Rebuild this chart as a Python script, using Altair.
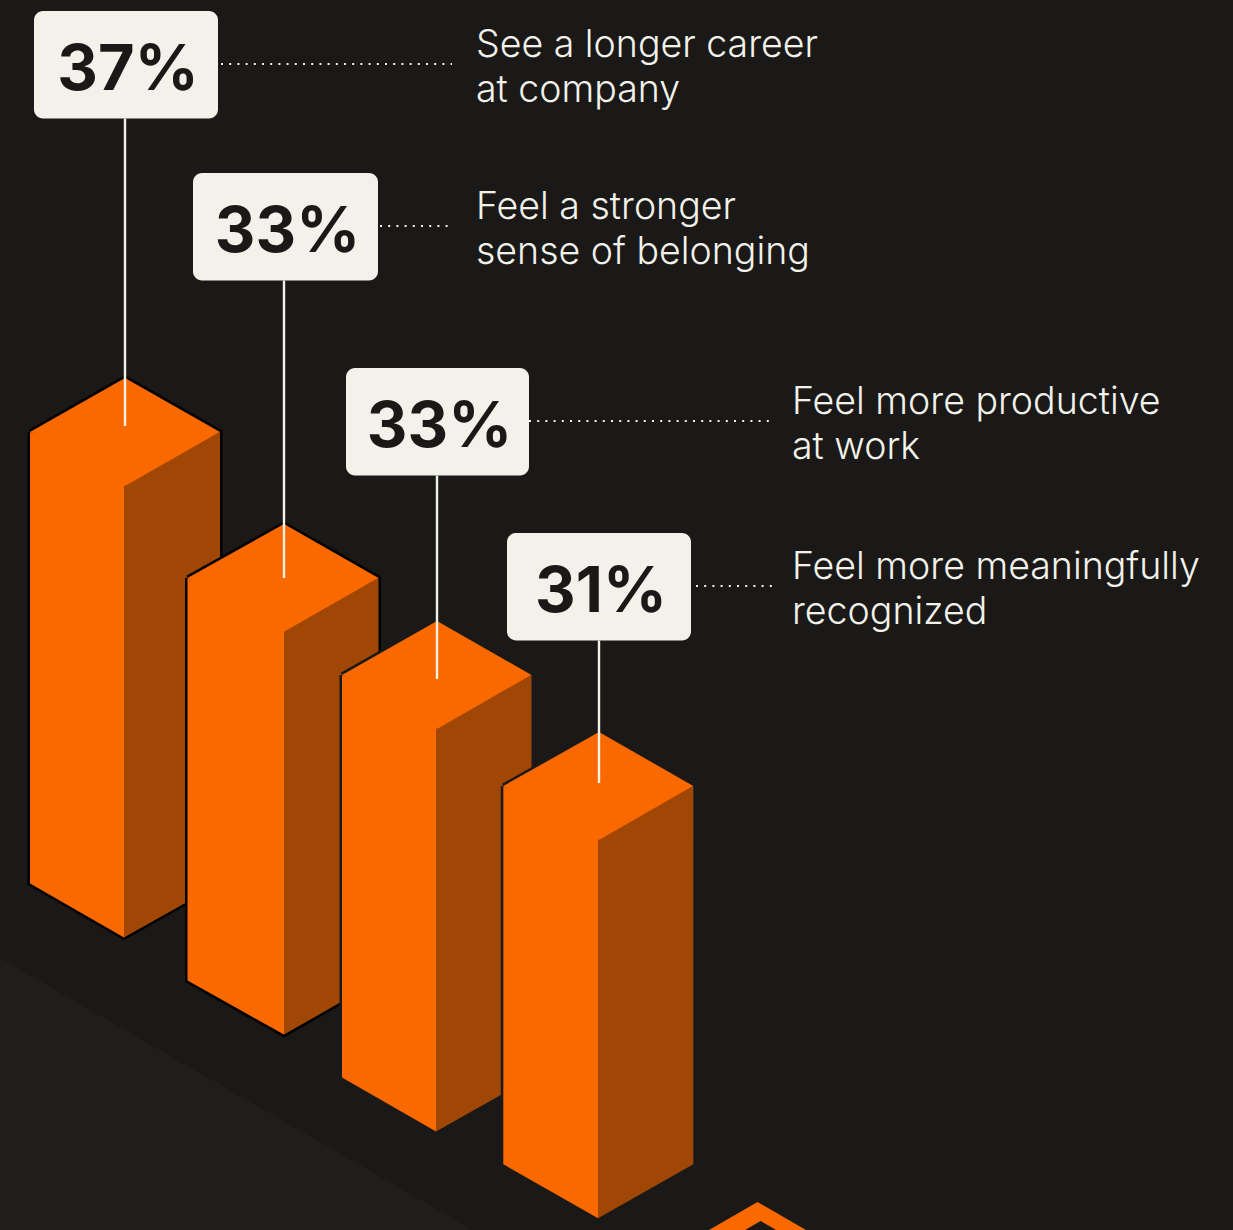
import altair as alt
import pandas as pd

# Survey results
percent_values = [37, 33, 33, 31]
percent_labels = ["37%", "33%", "33%", "31%"]
statement_first_lines = ["See a longer career", "Feel a stronger", "Feel more productive", "Feel more meaningfully"]
statement_second_lines = ["at company", "sense of belonging", "at work", "recognized"]

# Isometric layout, in canvas units
W, H = 1233, 1230
APEX_X = [125, 284, 437, 599]
APEX_Y = [378, 524, 621, 732]
LEFT_X = [30, 187.5, 342, 503.3]
RIGHT_X = [220, 378.5, 531.5, 693.3]
FRONT_X = [124, 284, 436, 598]
SLOPE = 54
UNITS_PER_POINT = 12.2
CARD_X = [34, 193, 346, 507]
CARD_Y = [11, 173, 368, 533]
CARD_W = [184, 185, 183, 184]
CARD_H = 107.5
STEM_END = [426, 578, 679, 783]
TEXT_X = [476, 476, 792, 792]
DOT_RANGE = [(221, 452), (380, 452), (529, 772), (696, 774)]

BG = "#1a1918"
FLOOR = "#1f1e1d"
ORANGE = "#fa6900"
BROWN = "#a14706"
CREAM = "#f2f2ea"
OUTLINE_COLORS = ["#000000", "#000000", BG, BG]

x_scale = alt.Scale(domain=[0, W], range=[0, W], nice=False, zero=False)
y_scale = alt.Scale(domain=[H, 0], range=[H, 0], nice=False, zero=False)
X = lambda f: alt.X(f, type="quantitative", scale=x_scale, axis=None)
Y = lambda f: alt.Y(f, type="quantitative", scale=y_scale, axis=None)


def band(points, color):
    """Filled shape: each row gives x and the upper and lower edge there."""
    df = pd.DataFrame(points, columns=["x", "y", "y2"])
    return alt.Chart(df).mark_area(color=color, interpolate="linear", clip=True).encode(
        x=X("x"), y=Y("y"), y2="y2"
    )


# Floor plane and the next prism peeking in at the bottom edge
layers = [
    band([(0, 958, H), (473, H, H)], FLOOR),
    band([(709, H, H), (757.5, 1202, H), (806, H, H)], ORANGE),
    band([(745, H, H), (760.7, 1221, H), (776, H, H)], BG),
]

# Prisms, back to front; front height follows the percentage
for i, v in enumerate(percent_values):
    ax, ay = APEX_X[i], APEX_Y[i]
    lx, rx, cx = LEFT_X[i], RIGHT_X[i], FRONT_X[i]
    sy = ay + SLOPE
    fy = ay + 2 * SLOPE
    h = v * UNITS_PER_POINT
    outline = pd.DataFrame(
        {
            "x": [lx, ax, rx, rx, cx, lx, lx],
            "y": [sy, ay, sy, sy + h, fy + h, sy + h, sy],
            "o": range(7),
        }
    )
    layers.append(
        alt.Chart(outline)
        .mark_line(color=OUTLINE_COLORS[i], strokeWidth=5, strokeJoin="miter")
        .encode(x=X("x"), y=Y("y"), order="o:Q")
    )
    # The left face runs a little under the top face so no seam shows between them
    layers += [
        band([(cx, fy, fy + h), (rx, sy, sy + h)], BROWN),
        band([(lx, sy, sy + h), (cx, fy - 6, fy + h)], ORANGE),
        band([(lx, sy, sy), (ax, ay, fy), (rx, sy, sy)], ORANGE),
    ]

rows = pd.DataFrame(
    {
        "label": percent_labels,
        "first": statement_first_lines,
        "second": statement_second_lines,
        "ax": APEX_X,
        "stem_end": STEM_END,
        "cx": CARD_X,
        "cx2": [c + w for c, w in zip(CARD_X, CARD_W)],
        "cy": CARD_Y,
        "cy2": [c + CARD_H for c in CARD_Y],
        "mx": [c + w / 2 + 2 for c, w in zip(CARD_X, CARD_W)],
        "my": [c + CARD_H / 2 + 6 for c in CARD_Y],
        "tx": TEXT_X,
        "t1": [c + 35 for c in CARD_Y],
        "t2": [c + 80 for c in CARD_Y],
        "dy": [c + 53 for c in CARD_Y],
        "d1": [d[0] for d in DOT_RANGE],
        "d2": [d[1] for d in DOT_RANGE],
    }
)
base = alt.Chart(rows)

layers += [
    base.mark_rule(color=CREAM, strokeWidth=2.4).encode(x=X("ax"), y=Y("cy2"), y2="stem_end"),
    base.mark_rule(color=CREAM, strokeWidth=2, strokeDash=[2, 6.2]).encode(
        x=X("d1"), x2="d2", y=Y("dy")
    ),
    base.mark_rect(color=CREAM, cornerRadius=9).encode(
        x=X("cx"), x2="cx2", y=Y("cy"), y2="cy2"
    ),
    base.mark_text(
        font="Inter", fontWeight=700, fontSize=63, color=BG, align="center", baseline="middle"
    ).encode(x=X("mx"), y=Y("my"), text="label:N"),
    base.mark_text(
        font="Inter", fontWeight=300, fontSize=37.5, color=CREAM, align="left", baseline="middle"
    ).encode(x=X("tx"), y=Y("t1"), text="first:N"),
    base.mark_text(
        font="Inter", fontWeight=300, fontSize=37.5, color=CREAM, align="left", baseline="middle"
    ).encode(x=X("tx"), y=Y("t2"), text="second:N"),
]

chart = (
    alt.layer(*layers)
    .properties(width=W, height=H, padding=0, background=BG, autosize=alt.AutoSizeParams(type="none"))
    .configure_view(stroke=None, fill=None)
)
chart.save("out.html", embed_options={"renderer": "svg", "actions": False})
